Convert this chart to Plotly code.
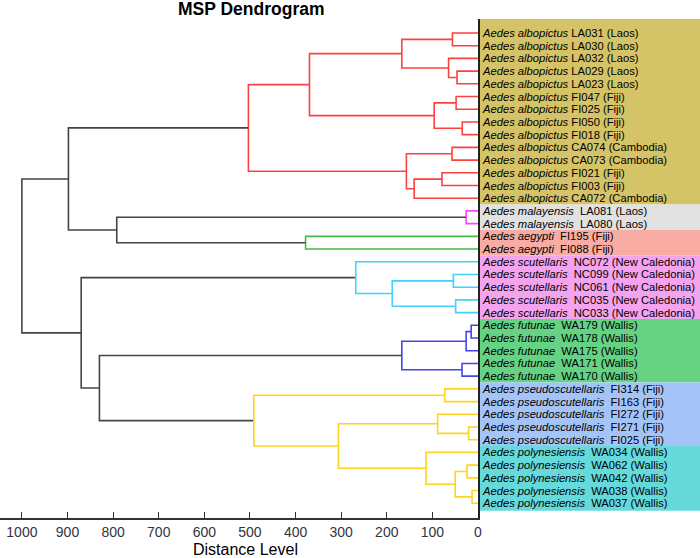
import plotly.graph_objects as go

# leaf groups (top to bottom) and their band colours
groups = ["Aedes albopictus", "Aedes malayensis", "Aedes aegypti", "Aedes scutellaris",
          "Aedes futunae", "Aedes pseudoscutellaris", "Aedes polynesiensis"]
group_sizes = [14, 2, 2, 5, 5, 5, 5]
group_gap = [" ", "  ", "  ", "  ", "  ", "  ", "  "]
band_colors = ["#D5C367", "#E1E1E1", "#F9ACA3", "#F4A4EE", "#66D283", "#A4C4F7", "#66D9DB"]

leaf_codes = [
    "LA031 (Laos)", "LA030 (Laos)", "LA032 (Laos)", "LA029 (Laos)", "LA023 (Laos)",
    "FI047 (Fiji)", "FI025 (Fiji)", "FI050 (Fiji)", "FI018 (Fiji)",
    "CA074 (Cambodia)", "CA073 (Cambodia)", "FI021 (Fiji)", "FI003 (Fiji)", "CA072 (Cambodia)",
    "LA081 (Laos)", "LA080 (Laos)",
    "FI195 (Fiji)", "FI088 (Fiji)",
    "NC072 (New Caledonia)", "NC099 (New Caledonia)", "NC061 (New Caledonia)",
    "NC035 (New Caledonia)", "NC033 (New Caledonia)",
    "WA179 (Wallis)", "WA178 (Wallis)", "WA175 (Wallis)", "WA171 (Wallis)", "WA170 (Wallis)",
    "FI314 (Fiji)", "FI163 (Fiji)", "FI272 (Fiji)", "FI271 (Fiji)", "FI025 (Fiji)",
    "WA034 (Wallis)", "WA062 (Wallis)", "WA042 (Wallis)", "WA038 (Wallis)", "WA037 (Wallis)",
]

# linkage: (node a, node b, distance); leaves are 0..37, merges numbered from 38 on
merges = [
    (0, 1, 56), (3, 4, 46), (2, 39, 64.5), (38, 40, 167), (5, 6, 48), (7, 8, 34.5),
    (42, 43, 96), (41, 44, 369.5), (9, 10, 57), (11, 12, 79), (47, 13, 140),
    (46, 48, 157), (45, 49, 503.4),
    (14, 15, 26), (16, 17, 378), (51, 52, 792), (50, 53, 898),
    (19, 20, 54), (21, 22, 49), (55, 56, 188), (18, 57, 268),
    (23, 24, 15), (59, 25, 26), (26, 27, 35), (60, 61, 167),
    (28, 29, 73), (31, 32, 20.5), (30, 64, 88.5), (34, 35, 24), (36, 37, 13),
    (66, 67, 50), (33, 68, 114), (65, 69, 306), (63, 70, 491.5),
    (62, 71, 830), (58, 72, 870), (54, 73, 1000),
]
RED, MAG, GRN, CYN, BLU, YEL, BLK = "#FF4040", "#FF44FF", "#44BB44", "#3FD3FF", "#4444EE", "#FFD41E", "#444444"
merge_colors = [RED] * 13 + [MAG, GRN, BLK, BLK] + [CYN] * 4 + [BLU] * 4 + [YEL] * 9 + [BLK] * 3

n = len(leaf_codes)
node_x = [0.0] * n
node_y = [float(i) for i in range(n)]
segs = {}
for (a, b, d), c in zip(merges, merge_colors):
    xs, ys = segs.setdefault(c, ([], []))
    xs += [node_x[a], d, d, node_x[b], None]
    ys += [node_y[a], node_y[a], node_y[b], node_y[b], None]
    node_x.append(d)
    node_y.append((node_y[a] + node_y[b]) / 2)

fig = go.Figure()
for c, (xs, ys) in segs.items():
    fig.add_trace(go.Scatter(x=xs, y=ys, mode="lines", line=dict(color=c, width=1.6),
                             hoverinfo="skip", showlegend=False))

y_top, y_bot = -1.10, 38.16


def py(v):
    return (y_bot - v) / (y_bot - y_top)


# coloured bands behind the labels
start = 0
for gi, (g, size) in enumerate(zip(groups, group_sizes)):
    top = y_top if gi == 0 else start - 0.5
    bot = start + size - 0.5 if gi < len(groups) - 1 else 37.58
    fig.add_shape(type="rect", xref="paper", yref="paper", x0=1, x1=1.47,
                  y0=py(bot), y1=py(top), fillcolor=band_colors[gi], line_width=0, layer="below")
    for i in range(start, start + size):
        fig.add_annotation(x=0, y=i, xref="x", yref="y", xanchor="left", xshift=2,
                           text="<i>" + g + "</i>" + group_gap[gi] + leaf_codes[i],
                           showarrow=False, font=dict(size=11.2, color="#000000"))
    start += size

fig.add_annotation(text="<b>MSP Dendrogram</b>", xref="paper", yref="paper", x=0.527, y=1.02,
                   xanchor="center", yanchor="middle", showarrow=False,
                   font=dict(size=17.5, color="#000000"))
fig.add_annotation(text="Distance Level", xref="paper", yref="paper", x=0.513, y=-0.064,
                   xanchor="center", yanchor="middle", showarrow=False,
                   font=dict(size=16, color="#000000"))

fig.update_layout(
    width=700, height=558,
    margin=dict(l=0, r=222, t=19, b=40),
    paper_bgcolor="white", plot_bgcolor="white",
    font=dict(family="Liberation Sans, Arial, sans-serif", color="#000000"),
    xaxis=dict(range=[1048, 0], tickvals=[1000, 900, 800, 700, 600, 500, 400, 300, 200, 100, 0],
               ticks="inside", ticklen=6, tickwidth=1.3, tickcolor="#333333",
               showline=True, linecolor="#333333", linewidth=1.6,
               showgrid=False, zeroline=False,
               tickfont=dict(size=14, color="#333344")),
    yaxis=dict(range=[y_bot, y_top], side="right", showline=True, linecolor="#222222",
               linewidth=1.6, showticklabels=False, ticks="", showgrid=False, zeroline=False),
)

# the page body has an 8px default margin; drop it so the figure fills the window
fig.write_html("out.html", config={"displayModeBar": False},
               post_script="document.body.style.margin = '0';")
